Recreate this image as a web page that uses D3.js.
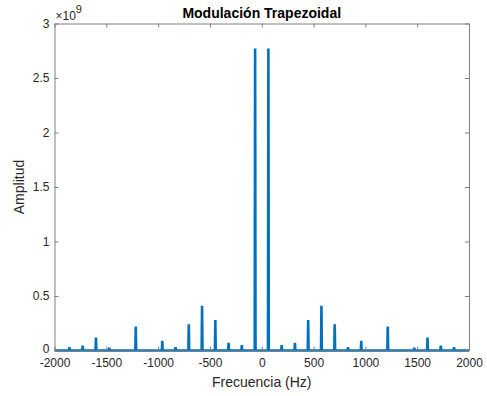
<!DOCTYPE html>
<html>
<head>
<meta charset="utf-8">
<script src="https://cdn.jsdelivr.net/npm/d3@7/dist/d3.min.js"></script>
<style>
  body { margin: 0; background: #fff; }
  svg { display: block; font-family: "Liberation Sans", Arial, sans-serif; }
</style>
</head>
<body>
<div id="chart"></div>
<script>
// == DATA ==
const freqs = [-1856, -1728, -1600, -1472, -1216, -960, -832, -704, -576, -448, -320, -192, -64,
  64, 192, 320, 448, 576, 704, 832, 960, 1216, 1472, 1600, 1728, 1856];
const amps = [0.03, 0.046, 0.12, 0.025, 0.22, 0.09, 0.03, 0.24, 0.41, 0.28, 0.07, 0.05, 2.77,
  2.77, 0.05, 0.07, 0.28, 0.41, 0.24, 0.03, 0.09, 0.22, 0.025, 0.12, 0.046, 0.03];
const xTicks = [-2000, -1500, -1000, -500, 0, 500, 1000, 1500, 2000];
const yTicks = [0, 0.5, 1, 1.5, 2, 2.5, 3];

// == CONFIG ==
const W = 487, H = 396;
const L = 54.5, R = 469, T = 23.5, B = 350.5;
const LINE = '#0072bd';
const AXIS = '#808080';
const TEXT = '#262626';

const svg = d3.select('#chart').append('svg')
  .attr('width', W).attr('height', H);

const x = d3.scaleLinear().domain([-2000, 2000]).range([L, R]);
const y = d3.scaleLinear().domain([0, 3]).range([B, T]);

// line path: baseline with narrow spikes
const pts = [[-2000, 0]];
freqs.forEach((f, i) => {
  pts.push([f - 4, 0], [f, amps[i]], [f + 4, 0]);
});
pts.push([2000, 0]);

svg.append('path')
  .datum(pts)
  .attr('fill', 'none')
  .attr('stroke', LINE)
  .attr('stroke-width', 2.6)
  .attr('stroke-linejoin', 'miter')
  .attr('d', d3.line().x(d => x(d[0])).y(d => y(d[1])));

// axes (MATLAB style, ticks inward, box)
const fmt = d => String(d);
const gx = svg.append('g').attr('transform', `translate(0,${B})`)
  .call(d3.axisBottom(x).tickValues(xTicks).tickSizeInner(-4).tickSizeOuter(0).tickPadding(8).tickFormat(fmt));
const gxTop = svg.append('g').attr('transform', `translate(0,${T})`)
  .call(d3.axisTop(x).tickValues(xTicks).tickSizeInner(-4).tickSizeOuter(0).tickFormat(''));
const gy = svg.append('g').attr('transform', `translate(${L},0)`)
  .call(d3.axisLeft(y).tickValues(yTicks).tickSizeInner(-4).tickSizeOuter(0).tickPadding(5).tickFormat(fmt));
const gyR = svg.append('g').attr('transform', `translate(${R},0)`)
  .call(d3.axisRight(y).tickValues(yTicks).tickSizeInner(-4).tickSizeOuter(0).tickFormat(''));

[gx, gxTop, gy, gyR].forEach(g => {
  g.selectAll('.domain').attr('stroke', AXIS);
  g.selectAll('.tick line').attr('stroke', AXIS);
  g.selectAll('text').attr('fill', TEXT).attr('font-size', '12px')
    .attr('font-family', '"Liberation Sans", Arial, sans-serif');
});
// keep the "0" y label just clear of the x labels
gy.selectAll('.tick text').filter(d => d === 0).attr('dy', '0.2em');

// exponent label
const ex = svg.append('text').attr('x', L + 1).attr('y', 20)
  .attr('fill', TEXT).attr('font-size', '12px');
ex.append('tspan').text('\u00d710');
ex.append('tspan').attr('dy', -7).attr('font-size', '11px').text('9');

// title and labels
svg.append('text').attr('x', (L + R) / 2).attr('y', 18)
  .attr('text-anchor', 'middle').attr('font-weight', 'bold')
  .attr('font-size', '14px').attr('fill', '#000')
  .text('Modulación Trapezoidal');

svg.append('text').attr('x', (L + R) / 2).attr('y', 387)
  .attr('text-anchor', 'middle').attr('font-size', '14px').attr('fill', TEXT)
  .text('Frecuencia (Hz)');

svg.append('text')
  .attr('transform', `translate(24,${(T + B) / 2}) rotate(-90)`)
  .attr('text-anchor', 'middle').attr('font-size', '14px').attr('fill', TEXT)
  .text('Amplitud');
</script>
</body>
</html>
